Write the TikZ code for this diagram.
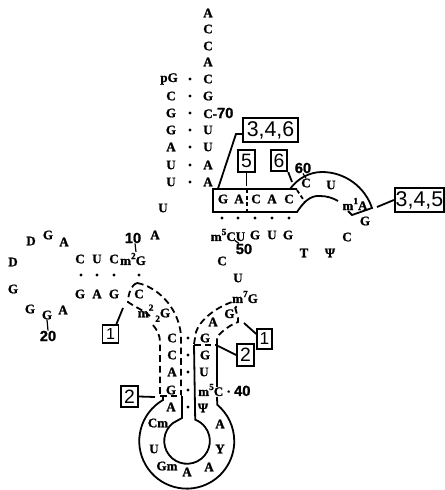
\documentclass[tikz,border=0pt]{standalone}
\usepackage{fontspec}
\setmainfont{Liberation Serif}[BoldFeatures={FakeBold=1.2}]
\newfontfamily\boxfont{Liberation Sans}
\newfontfamily\numfont{Liberation Sans}[BoldFeatures={FakeBold=1.2}]
\newcommand{\ntsup}[1]{\raisebox{0.45em}{\fontsize{7}{7}\selectfont #1}}
\newcommand{\twoidx}{\makebox[0.5em][l]{\smash{\raisebox{0.5em}{\fontsize{7}{7}\selectfont 2}}}\smash{\raisebox{-0.35em}{\fontsize{7}{7}\selectfont 2}}}
\tikzset{
  nt/.style={inner sep=0pt,font=\fontsize{9.8}{10}\selectfont\bfseries,text=black},
  numlab/.style={inner sep=0pt,font=\fontsize{11}{11}\selectfont\numfont\bfseries,text=black},
  pairdot/.style={circle,fill=black,inner sep=0pt,minimum size=2.6pt},
  bigbox/.style={draw=black,line width=1.35pt,inner sep=0pt,font=\fontsize{16}{18}\selectfont\boxfont,minimum height=18pt},
  smallbox/.style={draw=black,line width=1.35pt,inner sep=0pt,font=\fontsize{14.5}{15}\selectfont\boxfont,minimum width=12.5pt,minimum height=16pt},
  wire/.style={line width=1.35pt,draw=black},
  dwire/.style={line width=1.35pt,draw=black,dash pattern=on 5pt off 3pt},
  thin tick/.style={line width=0.9pt,draw=black}
}
\begin{document}
\begin{tikzpicture}[x=0.75pt,y=-0.75pt]
\useasboundingbox (0,0) rectangle (445,490);
% acceptor arm
\node[nt] (a1) at (208,13) {A};
\node[nt] (a2) at (208,29) {C};
\node[nt] (a3) at (208,46) {C};
\node[nt] (a4) at (208,62) {A};
\node[nt,anchor=east] (p1) at (178,79) {pG};
\node[nt] (p2) at (171,96) {C};
\node[nt] (p3) at (171,113) {G};
\node[nt] (p4) at (171,130) {G};
\node[nt] (p5) at (171,147) {A};
\node[nt] (p6) at (171,165) {U};
\node[nt] (p7) at (171,182) {U};
\node[nt] (q1) at (208,79) {C};
\node[nt] (q2) at (208,96) {G};
\node[nt,anchor=west] (q3) at (203,113) {C-{\fontsize{11}{11}\selectfont\numfont\bfseries 70}};
\node[nt] (q4) at (208,130) {U};
\node[nt] (q5) at (208,147) {U};
\node[nt] (q6) at (208,165) {A};
\node[nt] (q7) at (208,182) {A};
\foreach \i/\y in {1/79,2/96,3/113,4/130,5/147,6/165,7/182}
  \node[pairdot] (dd\i) at (190,\y) {};
\node[nt] (u8) at (163,208) {U};
\node[nt] (a9) at (155,235) {A};
% T arm
\node[nt] (t1) at (223,199) {G};
\node[nt] (t2) at (239,199) {A};
\node[nt] (t3) at (256,199) {C};
\node[nt] (t4) at (272,199) {A};
\node[nt] (t5) at (289,199) {C};
\node[nt] (t6) at (306,183) {C};
\node[nt] (t7) at (331,185) {U};
\node[nt] (t8) at (355,204) {m\ntsup{1}A};
\node[nt] (t9) at (365,221) {G};
\node[numlab] (n60) at (303,168) {60};
\foreach \i/\x in {1/222,2/238,3/255,4/272,5/289}
  \node[pairdot] (td\i) at (\x,218) {};
\node[nt] (b1) at (228,235) {m\ntsup{5}CU};
\node[nt] (b2) at (255,235) {G};
\node[nt] (b3) at (272,235) {U};
\node[nt] (b4) at (288,235) {G};
\node[numlab] (n50) at (244,249) {50};
\node[nt] (c48) at (222,261) {C};
\node[nt] (tt) at (304,253) {T};
\node[nt] (psi) at (330,253) {Ψ};
\node[nt] (c56) at (347,237) {C};
% boxes
\node[bigbox,minimum width=41pt] (b346) at (270.5,130) {3,4,6};
\node[smallbox] (b5) at (246.5,161) {5};
\node[smallbox] (b6) at (279,160.5) {6};
\node[bigbox,minimum width=37pt,anchor=east] (b345) at (445,200) {3,4,5};
\node[smallbox,font=\fontsize{12}{13}\selectfont\boxfont,minimum width=12pt,minimum height=13.5pt] (l1) at (110.5,334) {1};
\node[smallbox,font=\fontsize{13}{13}\selectfont\boxfont,minimum width=11pt,minimum height=15pt] (r1) at (264.5,339) {1};
\node[smallbox] (r2) at (245.5,355) {2};
\node[smallbox] (l2) at (129.5,396.5) {2};
% D arm
\node[numlab] (n10) at (133,238) {10};
\node[nt] (d1) at (31,241) {D};
\node[nt] (d2) at (48,235) {G};
\node[nt] (d3) at (64,242) {A};
\node[nt] (d4) at (13,262) {D};
\node[nt] (d5) at (80,259) {C};
\node[nt] (d6) at (97,259) {U};
\node[nt] (d7) at (114,259) {C};
\node[nt] (d8) at (133,259) {m\ntsup{2}G};
\foreach \i/\x in {1/81,2/97,3/114,4/139}
  \node[pairdot] (ed\i) at (\x,275) {};
\node[nt] (d9) at (13,289) {G};
\node[nt] (e1) at (80,294) {G};
\node[nt] (e2) at (97,294) {A};
\node[nt] (e3) at (114,294) {G};
\node[nt] (e4) at (139,294) {C};
\node[nt] (f1) at (30,309) {G};
\node[nt] (f2) at (47,315) {G};
\node[nt] (f3) at (63,310) {A};
\node[numlab] (n20) at (48,336) {20};
\node[nt] (f4) at (154,313) {m\twoidx G};
% anticodon arm
\node[nt] (s1) at (172,338) {C};
\node[nt] (s2) at (172,355) {C};
\node[nt] (s3) at (172,372) {A};
\node[nt] (s4) at (171,390) {G};
\node[nt] (s5) at (171,407) {A};
\foreach \i/\y in {1/338,2/355,3/372,4/390,5/407}
  \node[pairdot] (sd\i) at (188,\y) {};
\node[nt] (r01) at (205,338) {G};
\node[nt] (r02) at (205,355) {G};
\node[nt] (r03) at (204,372) {U};
\node[nt,anchor=west] (r04) at (198,390) {m\ntsup{5}C · {\fontsize{11}{11}\selectfont\numfont\bfseries 40}};
\node[nt] (r05) at (203,408) {Ψ};
\node[nt] (w1) at (158,423) {Cm};
\node[nt] (w2) at (154,449) {U};
\node[nt] (w3) at (167,466) {Gm};
\node[nt] (w4) at (187,472) {A};
\node[nt] (w5) at (209,467) {A};
\node[nt] (w6) at (220,449) {Y};
\node[nt] (w7) at (220,424) {A};
\node[nt] (v1) at (238,278) {U};
\node[nt] (v2) at (245,297) {m\ntsup{7}G};
\node[nt] (v3) at (231,312) {G\ntsup{'}};
\node[nt] (v4) at (213,322) {A};
% T arm outline
\draw[wire] (297,189) -- (213,189) -- (213,212) -- (297,212) .. controls (303,203) and (310,195) .. (320,196) .. controls (327,196) and (333,198) .. (338,201);
\draw[wire] (290,189) .. controls (298,178) and (310,172) .. (322,172) .. controls (345,172) and (365,187) .. (372,208) -- (352,215) -- (348,211);
\draw[dwire,dash pattern=on 3pt off 2pt] (297,190) -- (305,202);
\draw[dwire,dash pattern=on 3pt off 2pt] (247,189) -- (247,212);
% leader lines
\draw[wire] (q7.south east) ++(5,2) -- (236,134) -- (b346.west |- 0,134);
\draw[wire] (b5.south) -- ++(0,13);
\draw[wire] (b6.south east) -- (292,182);
\draw[wire] (b345.west) -- (377,207);
\draw[thin tick] (n60.south) -- (t6.north);
\draw[thin tick] (n10.south) ++(2,0) -- (136,252);
\draw[thin tick] (f2.south) -- (n20.north);
\draw[thin tick] (n50.north) ++(-5,0) -- ++(-4,-3);
\draw[wire] (l1.north east) ++(-3,0) -- (123,308);
\draw[wire] (r1.west) ++(0,-5) -- (244,323);
\draw[wire] (r2.west) -- (218,346);
\draw[wire] (l2.east) -- (155,397);
% D / anticodon stem dashes
\draw[dwire] (137,283) .. controls (131,285) and (128,295) .. (128,302) .. controls (135,307) and (143,310) .. (150,316);
\draw[dwire] (153,325) .. controls (157,330) and (160,335) .. (160,342) -- (160,395);
\draw[dwire] (137,283) .. controls (155,286) and (178,305) .. (181,335) -- (181,395);
\draw[dwire] (160,396) -- (182,396);
% anticodon loop
\draw[wire] (163,396) -- (163,400) arc[start angle=240,end angle=-50,radius=47.5] -- (217,397);
\draw[wire] (182,396) -- (182,418) -- (173,423) arc[start angle=232,end angle=-69,radius=22.8] -- (194,345);
\draw[wire] (217,387) -- (217,345);
\draw[dwire] (194,345) -- (217,345);
% right dashed
\draw[dwire] (194,344) -- (196,332) .. controls (200,320) and (215,308) .. (232,302);
\draw[dwire] (217,345) -- (217,337) .. controls (222,331) and (230,325) .. (238,322) -- (238,318) -- (235,307);
\end{tikzpicture}
\end{document}
